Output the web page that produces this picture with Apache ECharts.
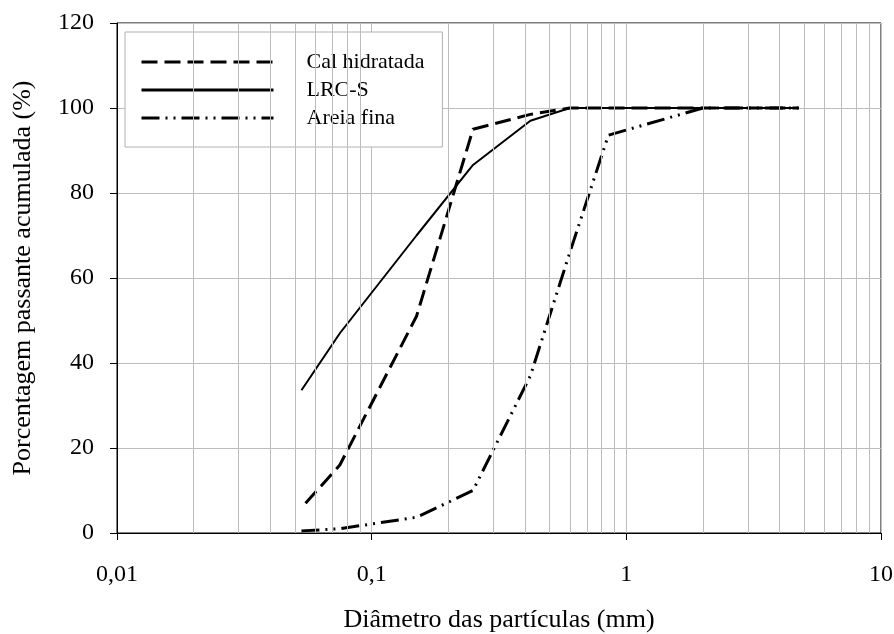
<!DOCTYPE html>
<html>
<head>
<meta charset="utf-8">
<script src="https://cdn.jsdelivr.net/npm/echarts@6/dist/echarts.min.js"></script>
<style>
  html, body { margin: 0; padding: 0; background: #fff; }
  #chart { width: 894px; height: 634px; }
</style>
</head>
<body>
<div id="chart"></div>
<script>
// curvas granulométricas (diâmetro em mm, % passante)
var calX = [0.055, 0.075, 0.15, 0.25, 0.42, 0.6, 4.75];
var calY = [7, 16, 51, 95, 98.5, 100, 100];
var lrcX = [0.053, 0.075, 0.15, 0.25, 0.42, 0.6, 4.75];
var lrcY = [33.6, 47, 70, 86.6, 97, 100, 100];
var areiaX = [0.053, 0.075, 0.15, 0.25, 0.42, 0.6, 0.85, 2.0, 4.75];
var areiaY = [0.5, 1, 3.7, 10, 37, 66, 93.6, 100, 100];
// linhas de grade secundárias do eixo log
var minorGrid = [0.02, 0.03, 0.04, 0.05, 0.06, 0.07, 0.08, 0.09,
  0.2, 0.3, 0.4, 0.5, 0.6, 0.7, 0.8, 0.9,
  2, 3, 4, 5, 6, 7, 8, 9];

function pairs(xs, ys) {
  return xs.map(function (x, i) { return [x, ys[i]]; });
}

var font = "Liberation Serif";
var gridColor = "#bdbdbd";

var option = {
  animation: false,
  backgroundColor: "#fff",
  grid: {
    left: 117, right: 13, top: 23, bottom: 101,
    containLabel: false,
    outerBoundsMode: "none",
    show: true, borderColor: "#000", borderWidth: 1
  },
  legend: {
    left: 125, top: 32,
    orient: "vertical",
    backgroundColor: "#fff",
    borderColor: "#b0b0b0",
    borderWidth: 1,
    padding: [19, 18, 18, 15],
    itemGap: 6,
    itemWidth: 132,
    itemHeight: 14,
    itemStyle: { opacity: 0 },
    lineStyle: { width: 3 },
    textStyle: { fontFamily: font, fontSize: 22, color: "#000", padding: [0, 0, 0, 28] },
    data: ["Cal hidratada", "LRC-S", "Areia fina"]
  },
  xAxis: {
    type: "log",
    logBase: 10,
    min: 0.01,
    max: 10,
    name: "Diâmetro das partículas (mm)",
    nameLocation: "middle",
    nameGap: 74,
    nameTextStyle: { fontFamily: font, fontSize: 26, color: "#000" },
    axisLine: { lineStyle: { color: "#000" } },
    axisTick: { show: true, length: 7, inside: false, lineStyle: { color: "#000" } },
    axisLabel: {
      fontFamily: font, fontSize: 24, color: "#000", margin: 30,
      formatter: function (v) { return String(v).replace(".", ","); }
    },
    splitLine: { show: true, lineStyle: { color: gridColor } }
  },
  yAxis: {
    type: "value",
    min: 0,
    max: 120,
    interval: 20,
    name: "Porcentagem passante acumulada (%)",
    nameLocation: "middle",
    nameGap: 81,
    nameTextStyle: { fontFamily: font, fontSize: 26, color: "#000" },
    axisLine: { show: true, lineStyle: { color: "#000" } },
    axisTick: { show: true, length: 7, lineStyle: { color: "#000" } },
    axisLabel: { fontFamily: font, fontSize: 24, color: "#000", margin: 23 },
    splitLine: { show: true, lineStyle: { color: gridColor } }
  },
  series: [
    {
      name: "grade",
      type: "line",
      data: [],
      z: 1,
      silent: true,
      markLine: {
        silent: true,
        symbol: "none",
        label: { show: false },
        lineStyle: { color: gridColor, type: "solid", width: 1 },
        data: minorGrid.map(function (v) { return { xAxis: v }; })
      }
    },
    {
      name: "Cal hidratada",
      type: "line",
      symbol: "none",
      data: pairs(calX, calY),
      lineStyle: { color: "#000", width: 3, type: [16, 7] },
      itemStyle: { color: "#000" }
    },
    {
      name: "LRC-S",
      type: "line",
      symbol: "none",
      data: pairs(lrcX, lrcY),
      lineStyle: { color: "#000", width: 2, type: "solid" },
      itemStyle: { color: "#000" }
    },
    {
      name: "Areia fina",
      type: "line",
      symbol: "none",
      data: pairs(areiaX, areiaY),
      lineStyle: { color: "#000", width: 3, type: [18, 6, 2, 6, 2, 6] },
      itemStyle: { color: "#000" }
    }
  ]
};

var myChart = echarts.init(document.getElementById("chart"));
myChart.setOption(option);
</script>
</body>
</html>
